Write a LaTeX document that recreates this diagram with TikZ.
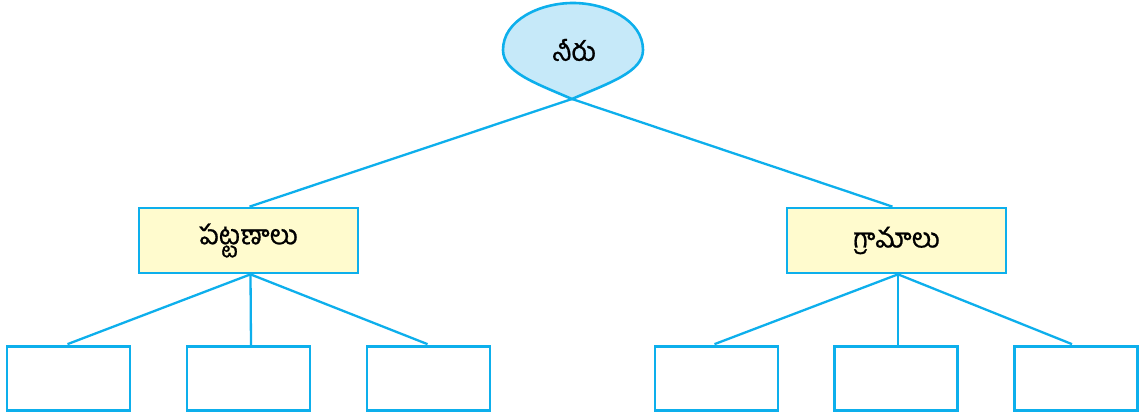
\documentclass[tikz,border=0pt]{standalone}
\usepackage{fontspec}
\newfontfamily\telugu[Script=Telugu,FakeBold=0.8]{Hind Guntur}
\definecolor{lineblue}{HTML}{0DAFEC}
\definecolor{dropfill}{HTML}{C6E9F9}
\definecolor{boxfill}{HTML}{FFFBCE}
\begin{document}
\begin{tikzpicture}[x=1pt,y=-1pt,
  conn/.style={draw=lineblue,line width=2.3pt},
  lbl/.style={font=\telugu\fontsize{27}{31}\selectfont},
  catbox/.style={draw=lineblue,line width=2.7pt,fill=boxfill,minimum width=219pt,minimum height=65pt,inner sep=0pt,lbl},
  leafbox/.style={draw=lineblue,line width=2.7pt,minimum width=123pt,minimum height=64pt,inner sep=0pt}]
\useasboundingbox (0,0) rectangle (1140,414);
\fill[white] (0,0) rectangle (1140,414);
% root teardrop
\draw[draw=lineblue,line width=2.6pt,fill=dropfill] (572,99) .. controls (535,83) and (503,72) .. (503,50) .. controls (503,20) and (540,3) .. (573,3) .. controls (606,3) and (643,20) .. (643,50) .. controls (643,72) and (609,83) .. (572,99) -- cycle;
\coordinate (tip) at (572,99);
\node[lbl] (root) at (574,50) {నీరు};
% category boxes
\node[catbox] (L) at (248.5,240.5) {పట్టణాలు};
\node[catbox] (R) at (896.5,240.5) {గ్రామాలు};
% leaf boxes
\node[leafbox] (l1) at (68.5,378.5) {};
\node[leafbox] (l2) at (248.5,378.5) {};
\node[leafbox] (l3) at (428.5,378.5) {};
\node[leafbox] (r1) at (716.5,378.5) {};
\node[leafbox] (r2) at (896,378.5) {};
\node[leafbox] (r3) at (1076,378.5) {};
% connectors
\draw[conn] (tip) -- ([xshift=1pt]L.north);
\draw[conn] (tip) -- ([xshift=-4pt]R.north);
\draw[conn] ([xshift=2pt]L.south) -- ([xshift=-1pt,yshift=1pt]l1.north);
\draw[conn] ([xshift=2pt]L.south) -- ([xshift=2.5pt]l2.north);
\draw[conn] ([xshift=2pt]L.south) -- ([xshift=-1pt,yshift=1pt]l3.north);
\draw[conn] ([xshift=1.5pt]R.south) -- ([xshift=-2pt,yshift=1pt]r1.north);
\draw[conn] ([xshift=1.5pt]R.south) -- ([xshift=2pt]r2.north);
\draw[conn] ([xshift=1.5pt]R.south) -- ([xshift=-4pt,yshift=1pt]r3.north);
\end{tikzpicture}
\end{document}
